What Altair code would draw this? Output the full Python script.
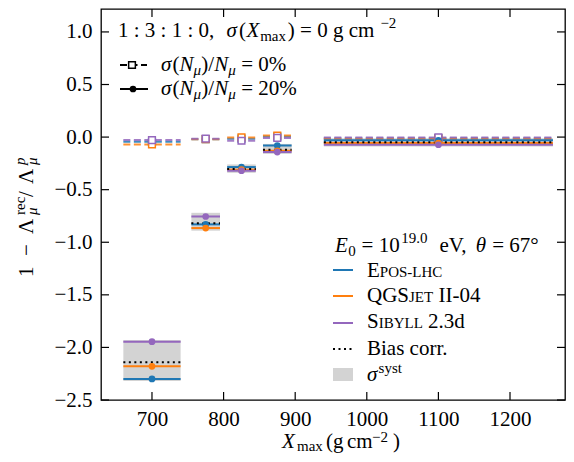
import altair as alt
import pandas as pd

# ---------------- data ----------------
centers = [700, 775, 825, 875, 1100]
bin_lo = [660, 755, 805, 855, 940]
bin_hi = [740, 795, 845, 895, 1260]
models = ["EPOS-LHC", "QGSJET II-04", "SIBYLL 2.3d"]
colors = ["#1f77b4", "#ff7f0e", "#9467bd"]

# sigma(N_mu)/N_mu = 20 %  (solid lines, filled circles)
epos_20 = [-2.30, -0.83, -0.285, -0.08, -0.03]
qgs_20 = [-2.18, -0.865, -0.31, -0.13, -0.057]
sib_20 = [-1.945, -0.755, -0.32, -0.142, -0.073]
# sigma(N_mu)/N_mu = 0 %  (dashed lines, open squares)
epos_0 = [-0.045, -0.02, -0.015, 0.005, -0.01]
qgs_0 = [-0.07, -0.02, -0.003, 0.015, -0.015]
sib_0 = [-0.028, -0.015, -0.035, -0.008, -0.003]
# bias correction and systematic band
bias_corr = [-2.14, -0.82, -0.304, -0.12, -0.048]
syst_lo = [-2.32, -0.89, -0.34, -0.16, -0.09]
syst_hi = [-1.93, -0.72, -0.26, -0.065, -0.01]

x_ticks = [700, 800, 900, 1000, 1100, 1200]
y_ticks = [-2.5, -2.0, -1.5, -1.0, -0.5, 0.0, 0.5, 1.0]

# ---------------- tables ----------------
def long_table(series):
    rows = []
    for m, vals in zip(models, series):
        for c, lo, hi, v in zip(centers, bin_lo, bin_hi, vals):
            rows.append({"model": m, "center": c, "lo": lo, "hi": hi, "val": v})
    return pd.DataFrame(rows)

df20 = long_table([epos_20, qgs_20, sib_20])
df0 = long_table([epos_0, qgs_0, sib_0])
dfb = pd.DataFrame({"center": centers, "lo": bin_lo, "hi": bin_hi,
                    "bias": bias_corr, "slo": syst_lo, "shi": syst_hi})
dfxt = pd.DataFrame({"t": x_ticks})
dfyt = pd.DataFrame({"t": y_ticks})

W, H = 464, 391
F = "Liberation Serif"

xs = alt.Scale(domain=[628.8, 1276.8], nice=False, zero=False)
ys = alt.Scale(domain=[-2.5, 1.218], nice=False, zero=False)
xaxis = alt.Axis(values=x_ticks, format="d", labelFont=F, labelFontSize=21,
                 labelColor="black", ticks=False, domain=False, grid=False,
                 title=None, labelPadding=8)
yaxis = alt.Axis(values=y_ticks, format=".1f", labelFont=F, labelFontSize=21,
                 labelColor="black", ticks=False, domain=False, grid=False,
                 title=None, labelPadding=9)


def X(f):
    return alt.X(f, type="quantitative", scale=xs, axis=xaxis)


def Y(f):
    return alt.Y(f, type="quantitative", scale=ys, axis=yaxis)


cscale = alt.Scale(domain=models, range=colors)
color = alt.Color("model:N", scale=cscale, legend=None)

band = alt.Chart(dfb).mark_rect(color="#d3d3d3").encode(
    x=X("lo"), x2="hi", y=Y("slo"), y2="shi")
dashed = alt.Chart(df0).mark_rule(strokeDash=[7, 3.5], strokeWidth=2, opacity=0.85).encode(
    x=X("lo"), x2="hi", y=Y("val"), color=color)
solid = alt.Chart(df20).mark_rule(strokeWidth=2).encode(
    x=X("lo"), x2="hi", y=Y("val"), color=color)
biasl = alt.Chart(dfb).mark_rule(strokeDash=[2, 3.5], strokeWidth=2, color="black").encode(
    x=X("lo"), x2="hi", y=Y("bias"))
squares = alt.Chart(df0).mark_point(shape="square", filled=True, fill="white",
                                    fillOpacity=1, strokeWidth=1.5, size=45, opacity=1).encode(
    x=X("center"), y=Y("val"), stroke=alt.Stroke("model:N", scale=cscale, legend=None))
circles = alt.Chart(df20).mark_circle(size=45, opacity=1).encode(
    x=X("center"), y=Y("val"), color=color)

TL = 8
tick_style = dict(color="black", strokeWidth=1.2)
xt_bot = alt.Chart(dfxt).mark_rule(**tick_style).encode(x=X("t"), y=alt.value(H), y2=alt.value(H - TL))
xt_top = alt.Chart(dfxt).mark_rule(**tick_style).encode(x=X("t"), y=alt.value(0), y2=alt.value(TL))
yt_l = alt.Chart(dfyt).mark_rule(**tick_style).encode(y=Y("t"), x=alt.value(0), x2=alt.value(TL))
yt_r = alt.Chart(dfyt).mark_rule(**tick_style).encode(y=Y("t"), x=alt.value(W), x2=alt.value(W - TL))

# ---------------- text helpers (legends / titles) ----------------
ONE = alt.Data(values=[{"k": 0}])
CW = {' ': .25, '.': .25, ',': .25, ':': .278, '(': .333, ')': .333, '/': .278,
      '=': .564, '%': .833, '−': .564, '-': .333, '°': .4, 'σ': .55, 'μ': .52,
      'Λ': .70, 'θ': .5, 'a': .444, 'c': .444, 'd': .5, 'e': .444, 'g': .5,
      'i': .278, 'm': .778, 'o': .5, 'p': .5, 'r': .333, 's': .389, 't': .278,
      'x': .5, 'y': .5, 'V': .722, 'B': .667, 'E': .611, 'P': .556, 'O': .722,
      'S': .556, 'L': .611, 'H': .722, 'C': .667, 'Q': .722, 'G': .722,
      'J': .389, 'T': .611, 'I': .333, 'Y': .722, 'N': .667, 'X': .611}


def tw(s, size):
    return sum(CW.get(c, 0.5) for c in s) * size


def piece(x, y, txt, size=21, italic=False, angle=0):
    return alt.Chart(ONE).mark_text(
        text=txt, font=F, fontSize=size,
        fontStyle="italic" if italic else "normal",
        align="left", baseline="alphabetic", angle=angle, color="black"
    ).encode(x=alt.value(x), y=alt.value(y))


def rich(x0, y0, pieces, k=1.0):
    out, cur = [], 0.0
    for p in pieces:
        txt, size, dy, it = p
        lead = len(txt) - len(txt.lstrip(" "))
        core = txt.strip(" ")
        if core:
            out.append(piece(x0 + cur + lead * 0.25 * size * k, y0 + dy, core, size, it))
        cur += tw(txt, size) * k
    return out


texts = []
# y-axis title (rotated)
yb = -68
for txt, yy, dx, size, it in [("1", 268, 0, 21, False), ("−", 247, 0, 21, False),
                              ("Λ", 225, 0, 21, False), ("rec", 206, -8, 15, False),
                              ("μ", 206, 4, 15, True), ("/", 188, 0, 21, False),
                              ("Λ", 175, 0, 21, False), ("p", 156, -8, 15, True),
                              ("μ", 156, 4, 15, True)]:
    texts.append(piece(yb + dx, yy, txt, size, it, angle=270))
# x-axis title
xb = 439
for txt, xx, dy, size, it in [("X", 181, 0, 21, True), ("max", 196, 3, 15, False),
                              ("(", 225, 0, 21, False), ("g", 232, 0, 21, False),
                              ("cm", 246, 0, 21, False), ("−2", 271, -6, 15, False),
                              (")", 292, 0, 21, False)]:
    texts.append(piece(xx, xb + dy, txt, size, it))

# top-left legend
texts += rich(17, 28, [("1 : 3 : 1 : 0, ", 21, 0, False), ("σ", 21, 0, True), ("(", 21, 0, False),
                       ("X", 21, 0, True), ("max", 15, 4, False), (") = 0 g cm", 21, 0, False),
                       ("−2", 15, -9, False)], k=1.07)
for yy, pct in [(62, "0%"), (86, "20%")]:
    texts += rich(60, yy, [("σ", 21, 0, True), ("(", 21, 0, False), ("N", 21, 0, True),
                           ("μ", 15, 4, True), (")/", 21, 0, False), ("N", 21, 0, True),
                           ("μ", 15, 4, True), (" = " + pct, 21, 0, False)])
leg1 = [
    alt.Chart(ONE).mark_rule(strokeDash=[7, 3.5], strokeWidth=2, color="black").encode(
        x=alt.value(19), x2=alt.value(46), y=alt.value(56)),
    alt.Chart(ONE).mark_point(shape="square", filled=True, fill="white", stroke="black",
                              strokeWidth=1.5, size=45, opacity=1).encode(
        x=alt.value(31), y=alt.value(56)),
    alt.Chart(ONE).mark_rule(strokeWidth=2, color="black").encode(
        x=alt.value(19), x2=alt.value(47), y=alt.value(80)),
    alt.Chart(ONE).mark_circle(size=45, opacity=1, color="black").encode(
        x=alt.value(32), y=alt.value(80)),
]

# bottom-right legend
texts += rich(234, 243, [("E", 21, 0, True), ("0", 15, 4, False), (" = 10", 21, 0, False),
                         ("19.0", 15, -9, False), ("  eV, ", 21, 0, False), ("θ", 21, 0, True),
                         (" = 67°", 21, 0, False)], k=1.04)
texts += rich(266, 268, [("E", 21, 0, False), ("POS-LHC", 15, 0, False)])
texts += rich(266, 293, [("QGS", 21, 0, False), ("JET", 15, 0, False), (" II-04", 21, 0, False)])
texts += rich(266, 319, [("S", 21, 0, False), ("IBYLL", 15, 0, False), (" 2.3d", 21, 0, False)])
texts += rich(266, 346, [("Bias corr.", 21, 0, False)])
texts += rich(266, 372, [("σ", 21, 0, True), ("syst", 15, -8, False)])
leg2 = []
for yy, c in zip([261, 287, 314], colors):
    leg2.append(alt.Chart(ONE).mark_rule(strokeWidth=2, color=c).encode(
        x=alt.value(232), x2=alt.value(252), y=alt.value(yy)))
leg2.append(alt.Chart(ONE).mark_rule(strokeWidth=2, strokeDash=[2, 3.5], color="black").encode(
    x=alt.value(232), x2=alt.value(252), y=alt.value(340)))
leg2.append(alt.Chart(ONE).mark_rect(color="#d3d3d3").encode(
    x=alt.value(232), x2=alt.value(252), y=alt.value(359), y2=alt.value(372)))

chart = alt.layer(
    band, dashed, solid, biasl, squares, circles,
    xt_bot, xt_top, yt_l, yt_r, *leg1, *leg2, *texts
).properties(
    width=W, height=H,
    padding={"left": 93, "top": 1, "right": 1, "bottom": 54},
    autosize=alt.AutoSizeParams(type="none"),
).configure_view(stroke="black", strokeWidth=1.3)

chart.save("out.html", embed_options={"renderer": "svg", "actions": False})
